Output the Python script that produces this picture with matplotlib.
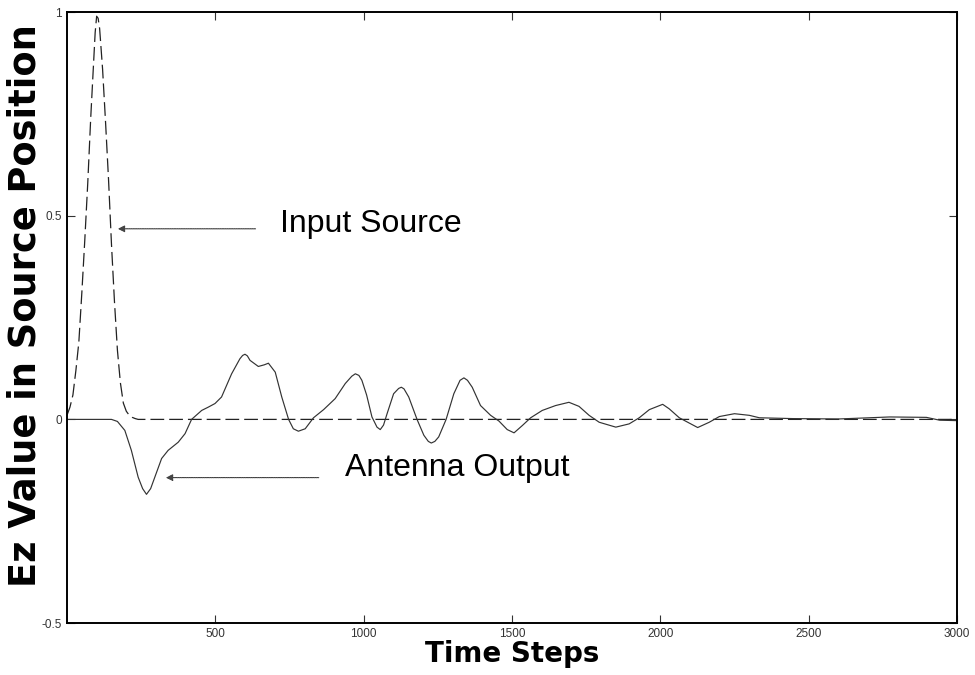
import matplotlib
matplotlib.use('Agg')
import matplotlib.pyplot as plt

# input source pulse (dashed)
src_t = [0, 10, 20, 30, 40, 50, 60, 70, 80, 90, 95, 100, 105, 110, 120, 130,
         140, 150, 160, 170, 180, 190, 200, 210, 220, 230, 240, 3000]
src_v = [0.01, 0.03, 0.06, 0.12, 0.19, 0.31, 0.44, 0.58, 0.74, 0.88, 0.95,
         0.99, 0.985, 0.96, 0.86, 0.73, 0.59, 0.43, 0.29, 0.17, 0.09, 0.04,
         0.02, 0.01, 0.005, 0.002, 0.0, 0.0]

# antenna output (solid)
ant_t = [0, 150, 170, 195, 217, 240, 255, 268, 282, 296, 319, 341, 375, 398,
         420, 454, 476, 499, 521, 555, 583, 592, 600, 608, 617, 645, 665, 679,
         702, 724, 747, 763, 780, 803, 831, 865, 904, 938, 960, 972, 984, 994,
         1010, 1028, 1045, 1056, 1067, 1079, 1101, 1118, 1127, 1136, 1152,
         1180, 1203, 1218, 1228, 1240, 1253, 1278, 1304, 1325, 1338, 1350,
         1366, 1394, 1428, 1456, 1484, 1507, 1535, 1563, 1602, 1647, 1692,
         1726, 1760, 1794, 1850, 1895, 1929, 1963, 2008, 2030, 2064, 2126,
         2165, 2199, 2250, 2300, 2334, 2446, 2600, 2773, 2897, 2942, 3000]
ant_v = [0, 0, -0.005, -0.027, -0.076, -0.142, -0.17, -0.184, -0.17, -0.142,
         -0.096, -0.076, -0.056, -0.035, 0, 0.022, 0.03, 0.039, 0.055, 0.112,
         0.149, 0.157, 0.16, 0.156, 0.145, 0.130, 0.134, 0.138, 0.116, 0.055,
         0, -0.023, -0.029, -0.023, 0.004, 0.024, 0.051, 0.088, 0.106, 0.112,
         0.108, 0.096, 0.06, 0.006, -0.019, -0.025, -0.014, 0.014, 0.063,
         0.076, 0.079, 0.075, 0.055, 0, -0.039, -0.054, -0.058, -0.054,
         -0.043, 0, 0.063, 0.096, 0.102, 0.096, 0.079, 0.034, 0.010, -0.004,
         -0.025, -0.033, -0.015, 0.004, 0.022, 0.034, 0.042, 0.032, 0.010,
         -0.007, -0.019, -0.011, 0.004, 0.024, 0.037, 0.026, 0.004, -0.020,
         -0.007, 0.007, 0.014, 0.010, 0.004, 0.002, 0.001, 0.006, 0.005,
         -0.002, -0.003]

xticks = [500, 1000, 1500, 2000, 2500, 3000]
yticks = [-0.5, 0, 0.5, 1]
ytick_labels = ['-0.5', '0', '0.5', '1']

plt.rcParams['font.family'] = ['Liberation Sans', 'DejaVu Sans']

fig = plt.figure(figsize=(9.75, 6.75), dpi=100)
ax = fig.add_axes([0.0687, 0.077, 0.9128, 0.905])

ax.plot(src_t, src_v, color='#222222', lw=0.9, dashes=(11, 4))
ax.plot(ant_t, ant_v, color='#333333', lw=0.85)

ax.set_xlim(0, 3000)
ax.set_ylim(-0.5, 1)
ax.set_xticks(xticks)
ax.set_xticklabels([str(t) for t in xticks])
ax.set_yticks(yticks)
ax.set_yticklabels(ytick_labels)
ax.tick_params(direction='in', top=True, right=True, labelsize=8.5,
               length=6, width=0.8, colors='#333333')
for s in ax.spines.values():
    s.set_linewidth(1.4)

ax.set_xlabel('Time Steps', fontsize=20, fontweight='bold',
              family='DejaVu Sans', labelpad=0)
ax.set_ylabel('Ez Value in Source Position', fontsize=26.5,
              fontweight='bold', family='DejaVu Sans')
ax.yaxis.set_label_coords(-0.026, 0.519)

arrow = dict(arrowstyle='-|>', color='#444444', lw=0.8,
             linestyle=(0, (1, 0.6)), mutation_scale=10)
ax.annotate('', xy=(162, 0.468), xytext=(645, 0.468), arrowprops=arrow)
ax.annotate('', xy=(324, -0.143), xytext=(858, -0.143), arrowprops=arrow)
ax.text(719, 0.459, 'Input Source', fontsize=23, va='baseline', ha='left')
ax.text(936, -0.140, 'Antenna Output', fontsize=23, va='baseline', ha='left')

fig.savefig('out.png', dpi=100)
